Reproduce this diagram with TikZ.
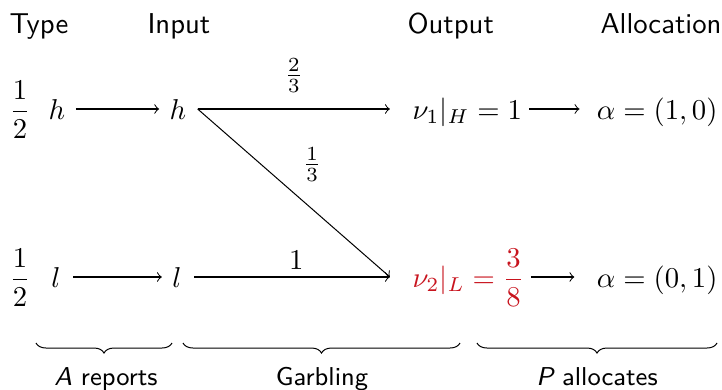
\documentclass[tikz,border=0pt]{standalone}
\usepackage{amsmath}
\usetikzlibrary{decorations.pathreplacing}
\definecolor{myred}{RGB}{200,20,30}
\begin{document}
\begin{tikzpicture}[x=0.3484pt,y=-0.3484pt, line width=0.35pt,
  mnode/.style={inner sep=0pt, text height=8pt, text depth=1pt},
  head/.style={anchor=base west, inner sep=0pt, font=\sffamily},
  brc/.style={draw, decorate, decoration={brace, mirror, amplitude=3.5pt}},
  blab/.style={font=\sffamily\small, inner sep=0pt, anchor=base},
  lab/.style={inner sep=0pt}]
\useasboundingbox (0,0) rectangle (722,390);
% headers
\node[head] (type) at (9,33) {Type};
\node[head] (input) at (147,33) {Input};
\node[head] (output) at (407,33) {Output};
\node[head] (alloc) at (600,33) {Allocation};
% row 1
\node[mnode] (p1) at (20,109) {$\dfrac12$};
\node[mnode] (h1) at (57,109) {$h$};
\node[mnode] (h2) at (178,109) {$h$};
\node[mnode, anchor=west] (nu1) at (412,109) {$\nu_1|_H = 1$};
\node[mnode, anchor=east] (a1) at (718,109) {$\alpha = (1,0)$};
% row 2
\node[mnode] (p2) at (20,277) {$\dfrac12$};
\node[mnode] (l1) at (56,277) {$l$};
\node[mnode] (l2) at (177,277) {$l$};
\node[mnode, anchor=west, text=myred] (nu2) at (412,277) {$\nu_2|_L = \dfrac38$};
\node[mnode, anchor=east] (a2) at (718,277) {$\alpha = (0,1)$};
% helper coordinates
\coordinate (s1) at ([xshift=3.8pt]h2.east);
\coordinate (t1) at ([xshift=-7.7pt]nu1.west);
\coordinate (t2) at ([xshift=-7.7pt]nu2.west);
% arrows
\draw[->, shorten <=3.5pt, shorten >=3.5pt] (h1) -- (h2);
\draw[->, shorten <=4.2pt, shorten >=3.5pt] (l1) -- (l2);
\draw[->] (s1) -- node[midway, yshift=11.8pt, lab] {$\frac23$} (t1);
\draw[->] (s1) -- node[pos=0.33, xshift=17.8pt, lab] {$\frac13$} (t2);
\draw[->, shorten <=4.2pt] (l2) -- node[pos=0.55, yshift=5.9pt, lab] {$1$} (t2);
\draw[->, shorten <=2.4pt, shorten >=5.9pt] (nu1) -- (a1);
\draw[->, shorten <=2.1pt, shorten >=7.7pt] (nu2) -- (a2);
% braces
\coordinate (b1s) at (36,343);
\coordinate (b1e) at (172,343);
\coordinate (b2s) at (183,343);
\coordinate (b2e) at (460,343);
\coordinate (b3s) at (477,343);
\coordinate (b3e) at (717,343);
\draw[brc] (b1s) -- (b1e);
\draw[brc] (b2s) -- (b2e);
\draw[brc] (b3s) -- (b3e);
\node[blab] (rep) at (106,385) {{\slshape A} reports};
\node[blab] (garb) at (322,385) {Garbling};
\node[blab] (palloc) at (597,385) {{\slshape P} allocates};
\end{tikzpicture}
\end{document}
